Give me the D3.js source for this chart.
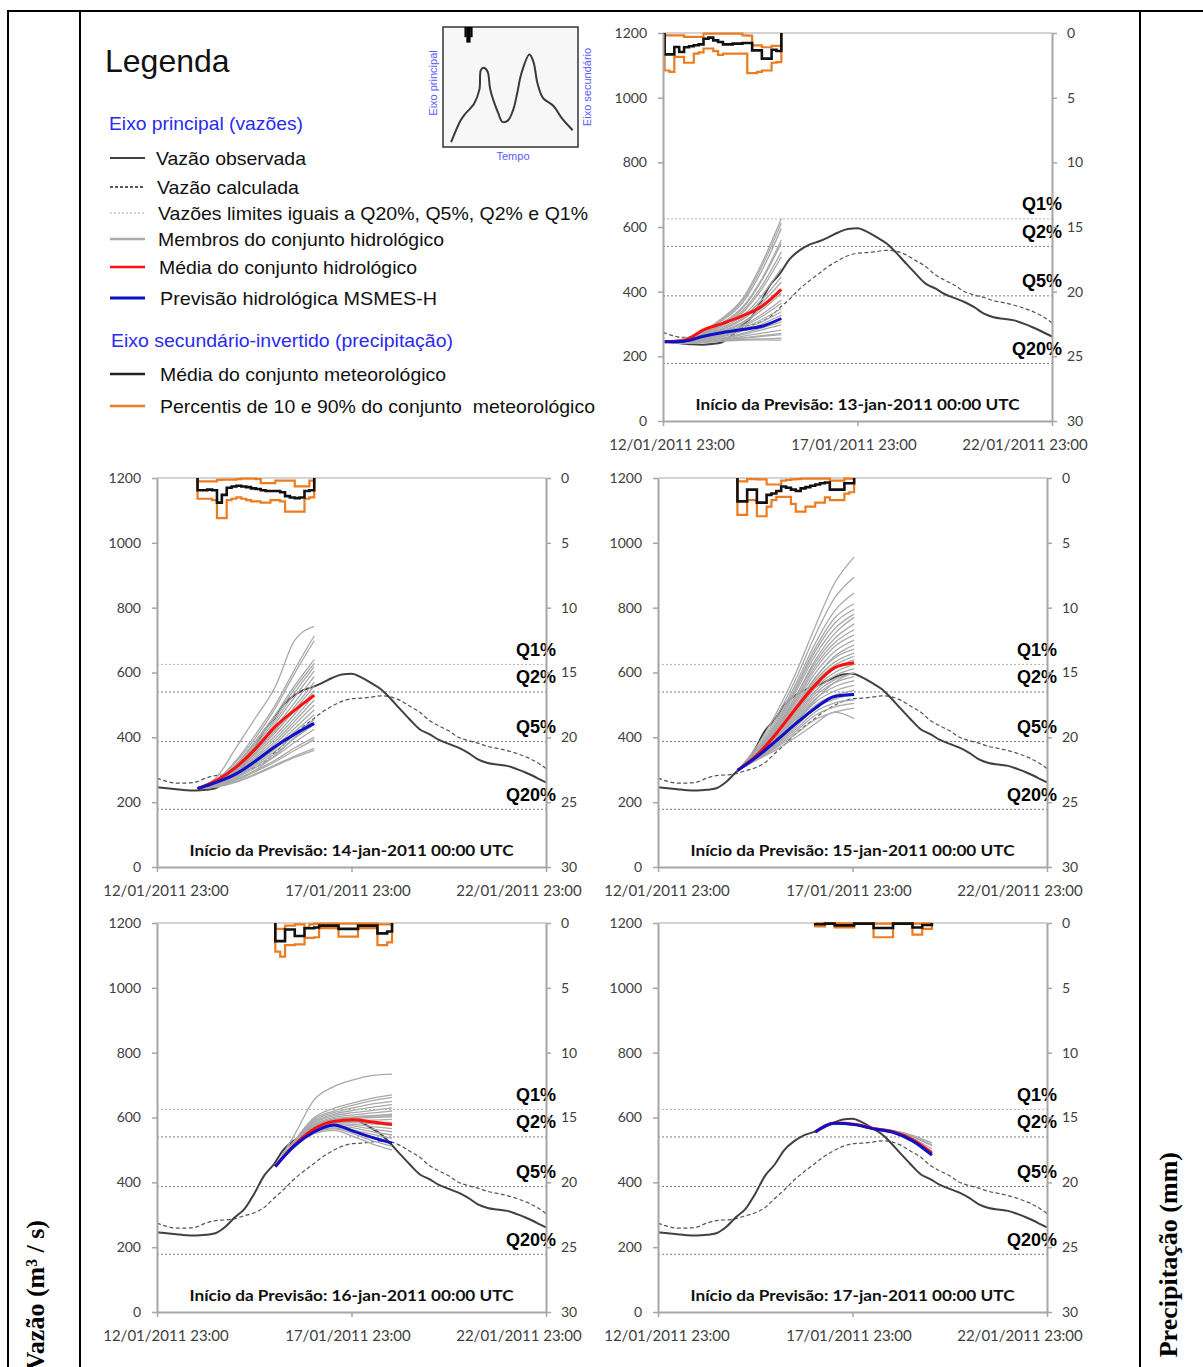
<!DOCTYPE html>
<html>
<head>
<meta charset="utf-8">
<script src="https://cdn.jsdelivr.net/npm/d3@7"></script>
<style>
  body { margin: 0; background: #fff; }
  svg { display: block; }
</style>
</head>
<body>
<svg id="fig" width="1203" height="1367"></svg>
<script>
// ---- observed and computed flow (m3/s), every 6 h from 12/01/2011 23:00 UTC
const flowStart = new Date(Date.UTC(2011, 0, 12, 23));
const flowStepHours = 6;
const obsFlow = [246, 243, 240, 237, 236, 238, 243, 262, 292, 318, 365, 420, 455, 500, 527, 545, 555, 568, 583, 594,
  596, 585, 568, 549, 520, 487, 455, 425, 410, 392, 380, 368, 352, 332, 321, 316, 312, 302, 290, 276, 261];
const calcFlow = [274, 264, 259, 259, 262, 274, 282, 284, 288, 297, 306, 322, 350, 377, 407, 432, 455, 478, 496, 511,
  519, 521, 524, 528, 525, 514, 496, 478, 452, 435, 420, 400, 390, 382, 372, 366, 359, 350, 339, 324, 304];

// flow limits
const limitNames = ["Q1%", "Q2%", "Q5%", "Q20%"];
const limitValues = [625, 540, 387, 178];

// axes
const axisStart = new Date(Date.UTC(2011, 0, 12, 23));
const axisEnd = new Date(Date.UTC(2011, 0, 22, 23));
const xTicks = [axisStart, new Date(Date.UTC(2011, 0, 17, 23)), axisEnd];
const flowTicks = [0, 200, 400, 600, 800, 1000, 1200];
const rainTicks = [0, 5, 10, 15, 20, 25, 30];

// ---- hydrological ensembles, values every 12 h over 72 h
const memberStepHours = 12;

const membersJan13 = [
  [245, 255, 280, 320, 378, 488, 626], [245, 254, 278, 316, 372, 478, 612], [245, 253, 276, 312, 365, 465, 595],
  [245, 252, 273, 305, 352, 440, 560], [245, 252, 272, 302, 348, 435, 550], [245, 251, 270, 298, 340, 418, 523],
  [245, 250, 268, 295, 335, 408, 508], [245, 249, 265, 290, 325, 388, 472], [245, 248, 263, 286, 318, 375, 446],
  [245, 248, 262, 284, 313, 365, 430], [245, 247, 260, 280, 305, 350, 405], [245, 246, 258, 277, 301, 343, 395],
  [245, 246, 256, 273, 295, 330, 374], [245, 245, 255, 270, 291, 323, 364], [245, 244, 253, 267, 286, 314, 348],
  [245, 244, 251, 264, 282, 307, 338], [245, 243, 250, 261, 278, 300, 327], [245, 243, 248, 257, 271, 288, 307],
  [245, 242, 247, 255, 267, 282, 297], [245, 242, 246, 253, 262, 272, 281], [245, 241, 245, 251, 257, 264, 271],
  [245, 240, 244, 249, 252, 254, 256], [245, 240, 243, 247, 250, 251, 250], [245, 241, 244, 250, 256, 262, 267]
];
const meanJan13 = [245, 249, 282, 302, 325, 355, 407];
const msmesJan13 = [245, 247, 262, 274, 283, 293, 317];

const membersJan14 = [
  [242, 278, 370, 462, 556, 700, 742], [242, 270, 330, 410, 500, 610, 713], [242, 268, 325, 400, 490, 598, 698],
  [242, 266, 318, 390, 470, 560, 640], [242, 265, 315, 385, 462, 550, 628], [242, 264, 312, 378, 452, 538, 618],
  [242, 263, 310, 372, 443, 525, 605], [242, 262, 306, 366, 432, 508, 588], [242, 261, 303, 360, 422, 495, 570],
  [242, 260, 300, 355, 415, 485, 558], [242, 259, 297, 350, 405, 472, 545], [242, 258, 294, 344, 396, 460, 530],
  [242, 257, 291, 338, 388, 450, 515], [242, 256, 288, 333, 380, 440, 500], [242, 255, 285, 327, 372, 428, 485],
  [242, 254, 282, 322, 365, 418, 470], [242, 253, 280, 318, 358, 408, 456], [242, 252, 277, 313, 350, 397, 440],
  [242, 251, 274, 307, 342, 385, 425], [242, 250, 270, 298, 330, 368, 400], [242, 249, 268, 295, 325, 360, 393],
  [242, 248, 264, 288, 315, 342, 366], [242, 247, 262, 285, 312, 338, 360], [242, 249, 270, 300, 345, 400, 455]
];
const meanJan14 = [242, 268, 309, 366, 433, 484, 530];
const msmesJan14 = [242, 262, 288, 328, 372, 410, 443];

const membersJan15 = [
  [298, 372, 475, 598, 742, 876, 956], [298, 365, 462, 580, 715, 830, 894], [298, 360, 452, 565, 690, 790, 845],
  [298, 356, 445, 555, 675, 768, 812], [298, 355, 440, 548, 665, 752, 795], [298, 353, 435, 540, 652, 735, 780],
  [298, 350, 428, 525, 630, 705, 750], [298, 349, 425, 518, 620, 692, 732], [298, 348, 422, 512, 610, 680, 716],
  [298, 347, 418, 505, 598, 665, 700], [298, 345, 414, 497, 585, 645, 672], [298, 344, 410, 490, 575, 632, 660],
  [298, 343, 407, 485, 568, 622, 650], [298, 342, 404, 480, 560, 612, 640], [298, 341, 401, 474, 552, 600, 625],
  [298, 340, 398, 468, 543, 590, 612], [298, 339, 395, 462, 535, 578, 598], [298, 338, 392, 456, 527, 568, 587],
  [298, 337, 389, 450, 518, 556, 575], [298, 336, 386, 444, 508, 543, 560], [298, 335, 383, 438, 498, 530, 545],
  [298, 334, 380, 432, 490, 518, 530], [298, 333, 376, 425, 478, 506, 516], [298, 332, 372, 418, 468, 494, 505],
  [298, 331, 368, 410, 455, 478, 490], [298, 330, 362, 400, 442, 478, 458], [298, 336, 388, 448, 515, 570, 600],
  [298, 344, 412, 493, 582, 650, 685], [298, 350, 430, 528, 638, 720, 770]
];
const meanJan15 = [298, 345, 412, 489, 561, 615, 630];
const msmesJan15 = [298, 340, 390, 442, 490, 526, 532];

const membersJan16 = [
  [449, 548, 655, 695, 716, 730, 734], [449, 530, 600, 628, 645, 660, 670], [449, 528, 595, 620, 638, 652, 662],
  [449, 526, 590, 615, 630, 642, 650], [449, 524, 586, 610, 622, 632, 640], [449, 522, 582, 605, 615, 622, 630],
  [449, 521, 578, 600, 608, 614, 620], [449, 520, 575, 596, 602, 606, 610], [449, 519, 572, 592, 597, 600, 602],
  [449, 518, 570, 590, 592, 592, 594], [449, 517, 568, 587, 588, 586, 585], [449, 516, 566, 584, 584, 580, 576],
  [449, 515, 564, 581, 579, 572, 566], [449, 514, 562, 578, 574, 564, 556], [449, 513, 560, 575, 568, 556, 546],
  [449, 512, 558, 572, 562, 548, 536], [449, 511, 556, 568, 556, 538, 524], [449, 510, 553, 565, 550, 528, 512],
  [449, 508, 550, 560, 542, 518, 500], [449, 519, 571, 594, 600, 604, 606]
];
const meanJan16 = [449, 516, 565, 588, 593, 586, 578];
const msmesJan16 = [449, 514, 556, 577, 558, 538, 521];

const membersJan17 = [
  [555, 583, 580, 568, 560, 545, 522], [555, 583, 579, 567, 558, 540, 512], [555, 582, 579, 566, 557, 536, 503],
  [555, 582, 578, 566, 556, 533, 496], [555, 582, 578, 565, 555, 530, 490], [555, 581, 577, 564, 553, 527, 485],
  [555, 583, 580, 567, 559, 542, 516]
];
const meanJan17 = [555, 583, 579, 566, 556, 532, 490];
const msmesJan17 = [555, 582, 578, 565, 554, 528, 484];

// ---- meteorological ensemble precipitation (mm), every 3 h over 72 h
const rainStepHours = 3;

const rainMeanJan13 = [1.65, 1.65, 1.08, 1.47, 1.1, 1.03, 0.95, 0.88, 0.44, 0.36, 0.57, 0.7, 0.88, 0.88, 0.82, 0.82, 0.77, 0.77, 1.34, 1.34, 1.98, 1.98, 1.29, 1.39];
const rainP10Jan13 = [0.18, 0.18, 0.18, 0.18, 0.3, 0.3, 0.3, 0.3, 0.05, 0.05, 0.05, 0.05, 0.05, 0.05, 0.05, 0.05, 0.18, 0.2, 0.95, 0.95, 1.1, 1.1, 1.0, 1.0];
const rainP90Jan13 = [2.9, 3.0, 1.85, 1.85, 2.3, 2.3, 1.6, 1.5, 1.2, 1.2, 1.4, 1.7, 1.6, 1.6, 1.6, 1.6, 1.6, 3.1, 3.1, 3.0, 2.9, 2.9, 2.3, 2.25];

const rainMeanJan14 = [0.95, 0.95, 0.9, 0.95, 1.9, 1.3, 0.75, 0.65, 0.6, 0.65, 0.7, 0.8, 0.85, 0.95, 1.0, 1.0, 1.0, 1.1, 1.4, 1.5, 1.55, 1.5, 1.0, 0.95];
const rainP10Jan14 = [0.26, 0.26, 0.26, 0.26, 0.15, 0.13, 0.13, 0.13, 0.08, 0.05, 0.05, 0.05, 0.08, 0.4, 0.4, 0.4, 0.2, 0.2, 0.2, 0.2, 0.65, 0.65, 0.65, 0.2];
const rainP90Jan14 = [1.6, 1.6, 1.6, 1.7, 3.1, 3.1, 1.7, 1.6, 1.5, 1.6, 1.7, 1.8, 1.8, 1.9, 1.9, 1.7, 1.7, 1.8, 2.6, 2.6, 2.6, 2.6, 1.6, 1.5];

const rainMeanJan15 = [1.8, 1.8, 0.9, 0.9, 1.9, 1.9, 1.3, 1.2, 1.0, 0.65, 0.75, 0.9, 1.0, 0.8, 0.7, 0.6, 0.5, 0.4, 0.35, 0.9, 0.9, 0.9, 0.4, 0.4];
const rainP10Jan15 = [0.26, 0.26, 0.08, 0.08, 0.1, 0.1, 0.5, 0.5, 0.5, 0.2, 0.15, 0.1, 0.08, 0.05, 0.05, 0.05, 0.05, 0.05, 0.05, 0.2, 0.2, 0.2, 0.05, 0.05];
const rainP90Jan15 = [2.85, 2.85, 1.7, 1.7, 2.95, 2.95, 2.2, 1.7, 1.45, 1.45, 1.45, 2.0, 2.6, 2.6, 2.2, 2.2, 1.9, 1.9, 1.5, 1.7, 1.7, 1.7, 1.2, 1.1];

const rainMeanJan16 = [1.4, 1.4, 0.5, 0.5, 1.0, 1.0, 0.4, 0.4, 0.35, 0.2, 0.2, 0.2, 0.2, 0.45, 0.45, 0.45, 0.45, 0.2, 0.2, 0.2, 0.2, 0.8, 0.8, 0.65];
const rainP10Jan16 = [0.45, 0.45, 0.2, 0.2, 0.1, 0.1, 0.35, 0.1, 0.05, 0.05, 0.05, 0.05, 0.05, 0.05, 0.05, 0.05, 0.05, 0.05, 0.05, 0.05, 0.05, 0.1, 0.1, 0.1];
const rainP90Jan16 = [2.2, 2.6, 1.7, 1.7, 1.65, 1.65, 1.15, 1.15, 1.1, 0.4, 0.4, 0.4, 0.4, 1.05, 1.05, 1.05, 1.05, 0.4, 0.4, 0.4, 0.4, 1.7, 1.7, 1.5];

const rainMeanJan17 = [0.1, 0.1, 0.05, 0.05, 0.18, 0.18, 0.18, 0.18, 0.05, 0.05, 0.05, 0.05, 0.39, 0.39, 0.39, 0.39, 0.05, 0.05, 0.05, 0.05, 0.35, 0.35, 0.15, 0.15];
const rainP10Jan17 = [0.03, 0.03, 0.02, 0.02, 0.03, 0.03, 0.03, 0.03, 0.02, 0.02, 0.02, 0.02, 0.05, 0.05, 0.05, 0.05, 0.02, 0.02, 0.02, 0.02, 0.05, 0.05, 0.03, 0.03];
const rainP90Jan17 = [0.26, 0.26, 0.05, 0.05, 0.33, 0.33, 0.33, 0.33, 0.05, 0.05, 0.05, 0.05, 1.1, 1.1, 1.1, 1.1, 0.05, 0.05, 0.05, 0.05, 0.9, 0.9, 0.45, 0.45];

// ---- schematic hydrograph of the legend inset (arbitrary units 0-100)
const insetTime = [6, 13, 16, 23, 27, 28, 30, 33, 35, 41, 44, 48, 52, 55, 58, 64, 67, 70, 74, 82, 88, 96];
const insetFlow = [4, 22, 27, 36, 48, 64, 66, 63, 48, 28, 21, 22, 31, 45, 61, 77, 71, 53, 41, 34, 24, 14];
const insetRainTime = [15.9, 17.3, 20.2, 21.7];
const insetRain = [8.5, 13, 8.5];

const forecasts = [
  { start: new Date(Date.UTC(2011, 0, 13)), label: "13-jan-2011", members: membersJan13, mean: meanJan13, msmes: msmesJan13,
    rainMean: rainMeanJan13, rainP10: rainP10Jan13, rainP90: rainP90Jan13 },
  { start: new Date(Date.UTC(2011, 0, 14)), label: "14-jan-2011", members: membersJan14, mean: meanJan14, msmes: msmesJan14,
    rainMean: rainMeanJan14, rainP10: rainP10Jan14, rainP90: rainP90Jan14 },
  { start: new Date(Date.UTC(2011, 0, 15)), label: "15-jan-2011", members: membersJan15, mean: meanJan15, msmes: msmesJan15,
    rainMean: rainMeanJan15, rainP10: rainP10Jan15, rainP90: rainP90Jan15 },
  { start: new Date(Date.UTC(2011, 0, 16)), label: "16-jan-2011", members: membersJan16, mean: meanJan16, msmes: msmesJan16,
    rainMean: rainMeanJan16, rainP10: rainP10Jan16, rainP90: rainP90Jan16 },
  { start: new Date(Date.UTC(2011, 0, 17)), label: "17-jan-2011", members: membersJan17, mean: meanJan17, msmes: msmesJan17,
    rainMean: rainMeanJan17, rainP10: rainP10Jan17, rainP90: rainP90Jan17 }
];

// plot areas of the five panels
const frames = [
  { left: 663, right: 1052, top: 33, bottom: 421 },
  { left: 157, right: 546, top: 478, bottom: 867 },
  { left: 658, right: 1047, top: 478, bottom: 867 },
  { left: 157, right: 546, top: 923, bottom: 1312 },
  { left: 658, right: 1047, top: 923, bottom: 1312 }
];

const colors = {
  axis: "#a6a6a6",
  text: "#404040",
  obs: "#404040",
  calc: "#555",
  member: "#a9a9a9",
  mean: "#ff1010",
  msmes: "#1010c8",
  rainMean: "#111",
  rainPct: "#ee7b1e",
  blue: "#2a2af0"
};

const H = 3600 * 1000;
const addHours = (d, h) => new Date(+d + h * H);
const svg = d3.select("#fig");

function fitText(sel, width) {
  const len = sel.node().getComputedTextLength();
  if (Math.abs(len - width) > 1.5) sel.attr("textLength", width).attr("lengthAdjust", "spacingAndGlyphs");
  return sel;
}

// ---------- table frame
const frame = svg.append("g").attr("stroke", "#000").attr("stroke-width", 2);
frame.append("line").attr("x1", 7).attr("x2", 1203).attr("y1", 11).attr("y2", 11);
[8, 80, 1140].forEach((x) => {
  frame.append("line").attr("x1", x).attr("x2", x).attr("y1", 10).attr("y2", 1367);
});

svg.append("text")
  .attr("transform", "translate(44,1220) rotate(-90)")
  .attr("text-anchor", "end")
  .style("font", "bold 26px 'Liberation Serif', serif")
  .text("Vazão (m³ / s)");

svg.append("text")
  .attr("transform", "translate(1177,1152) rotate(-90)")
  .attr("text-anchor", "end")
  .style("font", "bold 26px 'Liberation Serif', serif")
  .text("Precipitação (mm)");

// ---------- legend
const legend = svg.append("g").style("font-family", "'Liberation Sans', Arial, sans-serif");
fitText(legend.append("text").attr("x", 105).attr("y", 72).style("font-size", "32px").attr("fill", "#111").text("Legenda"), 124);
fitText(legend.append("text").attr("x", 109).attr("y", 130).style("font-size", "19px").attr("fill", colors.blue)
  .text("Eixo principal (vazões)"), 194);
fitText(legend.append("text").attr("x", 111).attr("y", 347).style("font-size", "19px").attr("fill", colors.blue)
  .text("Eixo secundário-invertido (precipitação)"), 342);

const legendItems = [
  { label: "Vazão observada", y: 158, x: 156, w: 150, stroke: colors.obs, width: 2, dash: null },
  { label: "Vazão calculada", y: 187, x: 157, w: 142, stroke: "#222", width: 1.5, dash: "3,2" },
  { label: "Vazões limites iguais a Q20%, Q5%, Q2% e Q1%", y: 213, x: 158, w: 430, stroke: "#aaa", width: 1, dash: "2,2" },
  { label: "Membros do conjunto hidrológico", y: 239, x: 158, w: 286, stroke: "#aaa", width: 2.5, dash: null },
  { label: "Média do conjunto hidrológico", y: 267, x: 159, w: 258, stroke: colors.mean, width: 2.5, dash: null },
  { label: "Previsão hidrológica MSMES-H", y: 298, x: 160, w: 277, stroke: colors.msmes, width: 3, dash: null },
  { label: "Média do conjunto meteorológico", y: 374, x: 160, w: 286, stroke: "#222", width: 2.5, dash: null },
  { label: "Percentis de 10 e 90% do conjunto  meteorológico", y: 406, x: 160, w: 435, stroke: colors.rainPct, width: 2.5, dash: null }
];
legendItems.forEach((d) => {
  legend.append("line")
    .attr("x1", 110).attr("x2", 145).attr("y1", d.y).attr("y2", d.y)
    .attr("stroke", d.stroke).attr("stroke-width", d.width)
    .attr("stroke-dasharray", d.dash);
  fitText(legend.append("text").attr("x", d.x).attr("y", d.y + 6.5)
    .style("font-size", "19px").style("white-space", "pre").attr("fill", "#111").text(d.label), d.w);
});

// inset sketch
const inset = svg.append("g");
const ix = d3.scaleLinear().domain([0, 100]).range([443, 578]);
const iy = d3.scaleLinear().domain([0, 100]).range([147, 27]);
const irain = d3.scaleLinear().domain([0, 100]).range([27, 147]);
inset.append("rect").attr("x", 443).attr("y", 27).attr("width", 135).attr("height", 120)
  .attr("fill", "#f7f7f7").attr("stroke", "#333").attr("stroke-width", 1.5);
inset.append("path")
  .datum(insetTime.map((t, i) => [t, insetFlow[i]]))
  .attr("fill", "none").attr("stroke", "#3a3a3a").attr("stroke-width", 2).attr("stroke-linejoin", "round")
  .attr("d", d3.line().x((d) => ix(d[0])).y((d) => iy(d[1])).curve(d3.curveCatmullRom));
inset.append("g").selectAll("rect").data(insetRain).join("rect")
  .attr("x", (d, i) => ix(insetRainTime[i]))
  .attr("width", (d, i) => ix(insetRainTime[i + 1]) - ix(insetRainTime[i]) + 0.3)
  .attr("y", irain(0))
  .attr("height", (d) => irain(d) - irain(0))
  .attr("fill", "#000");
const insetFont = "11px 'Liberation Sans', Arial, sans-serif";
inset.append("text").attr("transform", "translate(437,83) rotate(-90)").attr("text-anchor", "middle")
  .style("font", insetFont).attr("fill", "#5a5aff").text("Eixo principal");
inset.append("text").attr("transform", "translate(591,87) rotate(-90)").attr("text-anchor", "middle")
  .style("font", insetFont).attr("fill", "#5a5aff").text("Eixo secundário");
inset.append("text").attr("x", 513).attr("y", 160).attr("text-anchor", "middle")
  .style("font", insetFont).attr("fill", "#5a5aff").text("Tempo");

// ---------- panels
const flowPoints = (values) => values.map((v, i) => ({ t: addHours(flowStart, i * flowStepHours), v }));
const labelShift = [8.5, -4, -27.5];

forecasts.forEach((fc, k) => {
  const f = frames[k];
  const g = svg.append("g");
  const x = d3.scaleUtc().domain([axisStart, axisEnd]).range([f.left, f.right]);
  const y = d3.scaleLinear().domain([0, 1200]).range([f.bottom, f.top]);
  const yr = d3.scaleLinear().domain([0, 30]).range([f.top, f.bottom]);

  const flowLine = d3.line().x((d) => x(d.t)).y((d) => y(d.v)).curve(d3.curveMonotoneX);
  const rainLine = d3.line().x((d) => x(d.t)).y((d) => yr(d.v)).curve(d3.curveStepAfter);

  // plot top border
  g.append("line").attr("x1", f.left).attr("x2", f.right).attr("y1", f.top).attr("y2", f.top)
    .attr("stroke", "#c4c4c4").attr("stroke-width", 1.5);

  // limit lines
  limitValues.forEach((q, i) => {
    g.append("line").attr("x1", f.left).attr("x2", f.right).attr("y1", y(q)).attr("y2", y(q))
      .attr("stroke", i === 0 ? "#b0b0b0" : "#7a7a7a").attr("stroke-width", 1)
      .attr("stroke-dasharray", "2,2");
    g.append("text").attr("x", f.right + 10).attr("y", y(q) - 8.5).attr("text-anchor", "end")
      .style("font", "bold 18px 'Liberation Sans', Arial, sans-serif").attr("fill", "#000")
      .text(limitNames[i]);
  });

  // computed and observed flow
  g.append("path").datum(flowPoints(calcFlow)).attr("d", flowLine)
    .attr("fill", "none").attr("stroke", colors.calc).attr("stroke-width", 1.2).attr("stroke-dasharray", "4,2.5");
  g.append("path").datum(flowPoints(obsFlow)).attr("d", flowLine)
    .attr("fill", "none").attr("stroke", colors.obs).attr("stroke-width", 2);

  // ensemble
  const memberPoints = (values) => values.map((v, i) => ({ t: addHours(fc.start, i * memberStepHours), v }));
  g.append("g").selectAll("path").data(fc.members).join("path")
    .attr("d", (d) => flowLine(memberPoints(d)))
    .attr("fill", "none").attr("stroke", colors.member).attr("stroke-width", 1.3);
  g.append("path").datum(memberPoints(fc.mean)).attr("d", flowLine)
    .attr("fill", "none").attr("stroke", colors.mean).attr("stroke-width", 3);
  g.append("path").datum(memberPoints(fc.msmes)).attr("d", flowLine)
    .attr("fill", "none").attr("stroke", colors.msmes).attr("stroke-width", 3);

  // precipitation (inverted secondary axis)
  const rainPoints = (values) => {
    const end = addHours(fc.start, values.length * rainStepHours);
    return [{ t: fc.start, v: 0 }]
      .concat(values.map((v, i) => ({ t: addHours(fc.start, i * rainStepHours), v })))
      .concat([{ t: end, v: values[values.length - 1] }, { t: end, v: 0 }]);
  };
  [fc.rainP10, fc.rainP90].forEach((r) => {
    g.append("path").datum(rainPoints(r)).attr("d", rainLine)
      .attr("fill", "none").attr("stroke", colors.rainPct).attr("stroke-width", 2.2);
  });
  g.append("path").datum(rainPoints(fc.rainMean)).attr("d", rainLine)
    .attr("fill", "none").attr("stroke", colors.rainMean).attr("stroke-width", 2.6);

  // axes
  const styleAxis = (a) => {
    a.select(".domain").attr("stroke", colors.axis).attr("stroke-width", 2);
    a.selectAll(".tick line").attr("stroke", colors.axis).attr("stroke-width", 1.5);
    a.selectAll("text").attr("fill", colors.text).style("font-family", "Lato, 'Open Sans', sans-serif");
  };
  g.append("g").attr("transform", `translate(${f.left},0)`)
    .call(d3.axisLeft(y).tickValues(flowTicks).tickFormat(d3.format("d"))
      .tickSize(5).tickSizeOuter(0).tickPadding(11))
    .call(styleAxis)
    .call((a) => a.selectAll("text").style("font-size", "14px"));
  g.append("g").attr("transform", `translate(${f.right},0)`)
    .call(d3.axisRight(yr).tickValues(rainTicks).tickFormat(d3.format("d"))
      .tickSize(5).tickSizeOuter(0).tickPadding(10))
    .call(styleAxis)
    .call((a) => a.selectAll("text").style("font-size", "14px"));
  g.append("g").attr("transform", `translate(0,${f.bottom})`)
    .call(d3.axisBottom(x).tickValues(xTicks).tickFormat(d3.utcFormat("%d/%m/%Y %H:%M"))
      .tickSize(5).tickSizeOuter(0).tickPadding(13))
    .call(styleAxis)
    .call((a) => a.selectAll("text").style("font-size", "15px").attr("dx", (d, i) => labelShift[i]));

  // forecast start note
  fitText(g.append("text").attr("x", x(xTicks[1])).attr("y", f.bottom - 11).attr("text-anchor", "middle")
    .style("font", "bold 16px Lato, 'Open Sans', sans-serif").attr("fill", "#111")
    .text(`Início da Previsão: ${fc.label} 00:00 UTC`), 324);
});
</script>
</body>
</html>
